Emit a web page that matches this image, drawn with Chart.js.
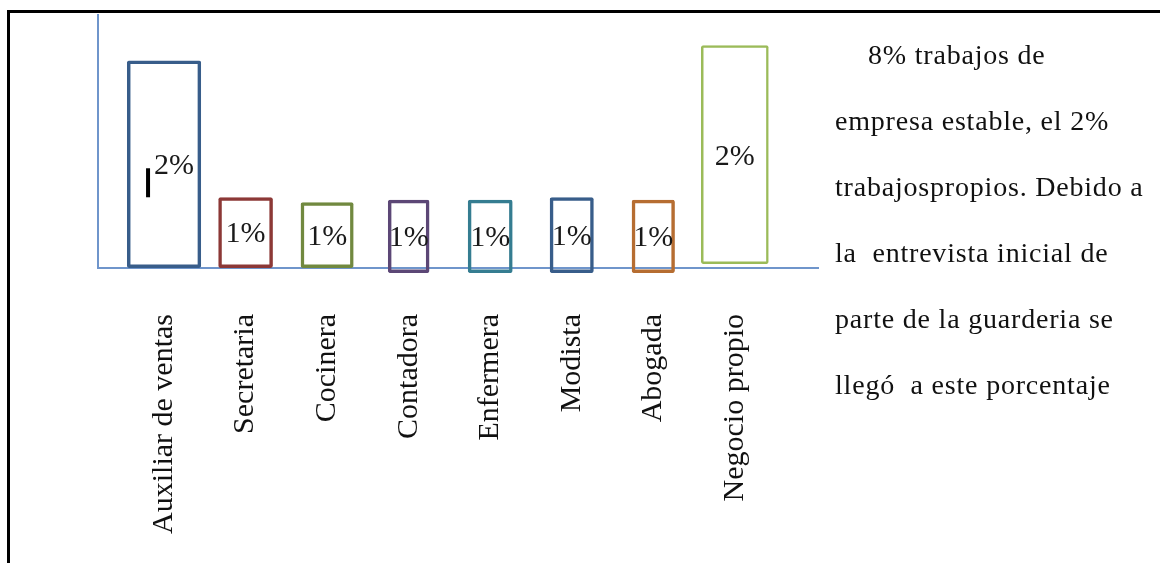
<!DOCTYPE html>
<html>
<head>
<meta charset="utf-8">
<script src="https://cdn.jsdelivr.net/npm/chart.js@4/dist/chart.umd.min.js"></script>
<style>
  body { margin: 0; background: #fff; }
  #wrap { position: relative; width: 1160px; height: 563px; overflow: hidden; }
  #frame { position: absolute; left: 7px; top: 10px; right: -10px; bottom: -10px;
           border-left: 3px solid #000; border-top: 3px solid #000; }
  #note { position: absolute; left: 835px; top: 22px; width: 320px;
          font-family: 'Liberation Serif', serif; font-size: 28px; line-height: 66px;
          letter-spacing: 0.8px; color: #111; white-space: nowrap; }
  #note div:first-child { padding-left: 33px; }
  canvas { position: absolute; left: 0; top: 0; }
</style>
</head>
<body>
<div id="wrap">
  <canvas id="myChart" width="1160" height="563"></canvas>
  <div id="frame"></div>
  <div id="note">
    <div>8% trabajos de</div>
    <div>empresa estable, el 2%</div>
    <div>trabajospropios. Debido a</div>
    <div>la &nbsp;entrevista inicial de</div>
    <div>parte de la guarderia se</div>
    <div>llegó &nbsp;a este porcentaje</div>
  </div>
</div>
<script>
// categories and values
const categories = ['Auxiliar de ventas', 'Secretaria', 'Cocinera', 'Contadora', 'Enfermera', 'Modista', 'Abogada', 'Negocio propio'];
const barTop = [82, 28, 26, 27, 27, 28, 27, 88];
const barBase = [0, 0, 0, -2, -2, -2, -2, 1.6];
const valueLabels = ['2%', '1%', '1%', '1%', '1%', '1%', '1%', '2%'];

// styles
const colors = ['#385D8A', '#8C3836', '#71893F', '#5C4776', '#357D91', '#385D8A', '#B66D31', '#9BBB59'];
const widths = [0.91, 0.67, 0.65, 0.51, 0.55, 0.54, 0.53, 0.83];
const lineW = [3.5, 3.5, 3.5, 3.5, 3.5, 3.5, 3.5, 2.5];
const axisColor = '#6F95CB';

const valueLabelPlugin = {
  id: 'valueLabels',
  afterDatasetsDraw(chart) {
    const ctx = chart.ctx;
    ctx.save();
    ctx.font = '30px "Liberation Serif", serif';
    ctx.fillStyle = '#1a1a1a';
    ctx.textAlign = 'center';
    ctx.textBaseline = 'middle';
    chart.data.datasets.forEach((ds, i) => {
      const el = chart.getDatasetMeta(i).data[0];
      if (!el) return;
      const p = el.getProps(['x', 'y', 'base'], true);
      const cy = (p.y + p.base) / 2 + 2;
      ctx.fillText(valueLabels[i], p.x + (i === 0 ? 10 : 0), cy);
      if (i === 0) {
        // stray text cursor mark in the original
        ctx.fillStyle = '#000';
        ctx.fillRect(p.x - 18, cy + 2, 4, 29);
        ctx.fillStyle = '#1a1a1a';
      }
    });
    ctx.restore();
  }
};

const datasets = categories.map((c, i) => ({
  label: c,
  data: [{ x: i, y: [barBase[i], barTop[i]] }],
  backgroundColor: 'rgba(255,255,255,0)',
  borderColor: colors[i],
  borderWidth: lineW[i],
  borderSkipped: false,
  borderRadius: 2,
  barPercentage: widths[i],
  categoryPercentage: 1,
  grouped: false,
  clip: false
}));

const ctx = document.getElementById('myChart').getContext('2d');
new Chart(ctx, {
  type: 'bar',
  data: { datasets: datasets },
  plugins: [valueLabelPlugin],
  options: {
    responsive: false,
    animation: false,
    layout: { padding: { left: 98, right: 342, top: 15, bottom: 0 } },
    plugins: { legend: { display: false }, tooltip: { enabled: false } },
    scales: {
      x: {
        type: 'linear',
        offset: false,
        min: -0.81,
        max: 8.02,
        grid: { display: false, drawTicks: false },
        border: { display: true, color: axisColor, width: 2 },
        afterBuildTicks: s => { s.ticks = categories.map((c, i) => ({ value: i })); },
        afterFit: s => { s.height = 295; },
        ticks: {
          autoSkip: false,
          minRotation: 90,
          maxRotation: 90,
          padding: 46,
          color: '#111',
          font: { family: 'Liberation Serif', size: 30 },
          callback: v => categories[v]
        }
      },
      y: {
        min: 0,
        max: 100,
        grid: { display: false, drawTicks: false },
        border: { display: true, color: axisColor, width: 2 },
        ticks: { display: false },
        afterFit: s => { s.width = 0; }
      }
    }
  }
});
</script>
</body>
</html>
